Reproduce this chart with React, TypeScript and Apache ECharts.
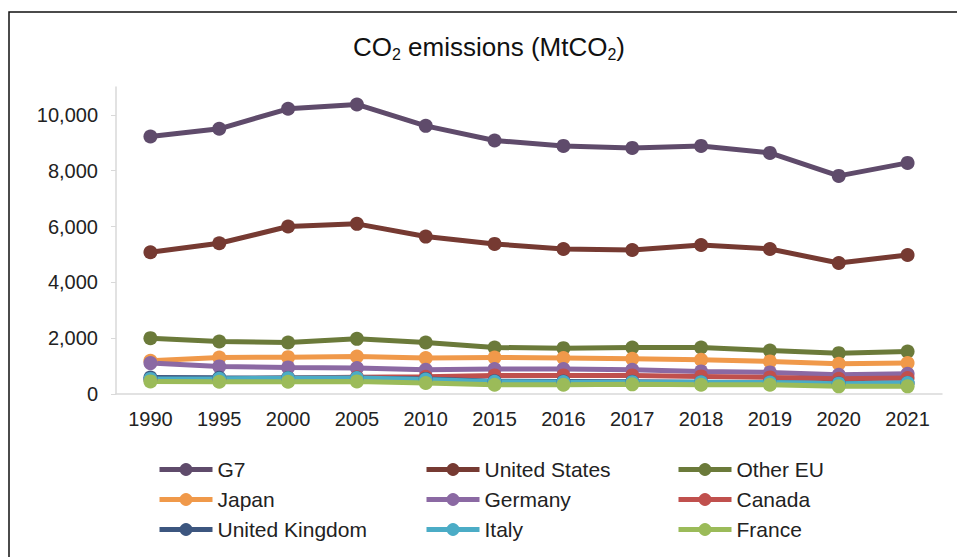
import React, { useEffect, useRef } from "react";
import * as echarts from "echarts";

const years = ["1990", "1995", "2000", "2005", "2010", "2015", "2016", "2017", "2018", "2019", "2020", "2021"];
const yTicks = [0, 2000, 4000, 6000, 8000, 10000];

const g7 = [9227, 9502, 10219, 10374, 9609, 9084, 8889, 8817, 8889, 8638, 7814, 8280];
const unitedStates = [5080, 5402, 6000, 6096, 5641, 5378, 5197, 5161, 5340, 5197, 4695, 4982];
const otherEU = [2000, 1881, 1845, 1976, 1845, 1667, 1643, 1667, 1667, 1560, 1464, 1524];
const japan = [1190, 1310, 1321, 1345, 1286, 1310, 1286, 1262, 1226, 1167, 1083, 1107];
const germany = [1107, 988, 952, 929, 869, 893, 893, 869, 810, 774, 690, 726];
const canada = [520, 540, 570, 600, 620, 667, 667, 667, 631, 595, 548, 571];
const unitedKingdom = [590, 580, 575, 570, 540, 460, 450, 440, 420, 410, 380, 390];
const italy = [540, 545, 560, 570, 520, 440, 430, 425, 420, 410, 370, 390];
const france = [452, 440, 440, 452, 393, 333, 333, 345, 333, 333, 274, 274];

const seriesNames = ["G7", "United States", "Other EU", "Japan", "Germany", "Canada", "United Kingdom", "Italy", "France"];
const seriesData = [g7, unitedStates, otherEU, japan, germany, canada, unitedKingdom, italy, france];
const seriesColors = ["#5f4b6b", "#763a32", "#6b7a3a", "#f0994a", "#8b69a3", "#c0504d", "#3c567f", "#4bacc6", "#9bbb59"];

const legendColumns = [
  ["G7", "Japan", "United Kingdom"],
  ["United States", "Germany", "Italy"],
  ["Other EU", "Canada", "France"],
];
const legendLefts = [157, 424, 676];

export default function App() {
  const ref = useRef<HTMLDivElement>(null);
  useEffect(() => {
    document.body.style.margin = "0";
    if (!ref.current) return;
    const chart = echarts.init(ref.current, null, { renderer: "svg" });
    const font = "Liberation Sans, Arial, sans-serif";
    chart.setOption({
      animation: false,
      backgroundColor: "#ffffff",
      textStyle: { fontFamily: font },
      graphic: [
        {
          type: "rect",
          shape: { x: 9, y: 12, width: 960, height: 560 },
          style: { fill: "none", stroke: "#111", lineWidth: 1.5 },
          silent: true,
        },
        {
          type: "text",
          x: 489,
          y: 47,
          style: {
            text: "{a|CO}{s|2}{a| emissions (MtCO}{s|2}{a|)}",
            align: "center",
            verticalAlign: "middle",
            rich: {
              a: { fontSize: 26, fontFamily: font, fill: "#111", lineHeight: 30 },
              s: { fontSize: 16, fontFamily: font, fill: "#111", lineHeight: 19, verticalAlign: "bottom" },
            },
          },
        },
      ],
      grid: { left: 116, right: 15, top: 87, bottom: 163, containLabel: false },
      xAxis: {
        type: "category",
        data: years,
        boundaryGap: true,
        axisLine: { lineStyle: { color: "#d9d9d9", width: 1.5 } },
        axisTick: { show: false },
        axisLabel: { fontSize: 20, color: "#222", margin: 15, fontFamily: font },
      },
      yAxis: {
        type: "value",
        min: 0,
        max: 11000,
        interval: 2000,
        splitLine: { show: false },
        axisLine: { show: true, lineStyle: { color: "#d9d9d9", width: 1.5 } },
        axisTick: { show: true, length: 5, lineStyle: { color: "#d9d9d9" }, customValues: yTicks },
        axisLabel: {
          fontSize: 20,
          color: "#222",
          margin: 18,
          fontFamily: font,
          customValues: yTicks,
          formatter: (v: number) => v.toLocaleString("en-US"),
        },
      },
      legend: legendColumns.map((col, i) => ({
        orient: "vertical",
        left: legendLefts[i],
        top: 459,
        padding: 0,
        data: col,
        itemWidth: 53,
        itemHeight: 16,
        itemGap: 9,
        selectedMode: false,
        lineStyle: { width: 5 },
        textStyle: { fontSize: 21, color: "#222", fontFamily: font },
      })),
      series: seriesNames.map((name, i) => ({
        name,
        type: "line",
        data: seriesData[i],
        symbol: "circle",
        symbolSize: 14,
        color: seriesColors[i],
        lineStyle: { width: 5, color: seriesColors[i] },
        itemStyle: { color: seriesColors[i] },
        emphasis: { disabled: true },
      })),
    });
    return () => chart.dispose();
  }, []);
  return <div ref={ref} style={{ width: 957, height: 557 }} />;
}
